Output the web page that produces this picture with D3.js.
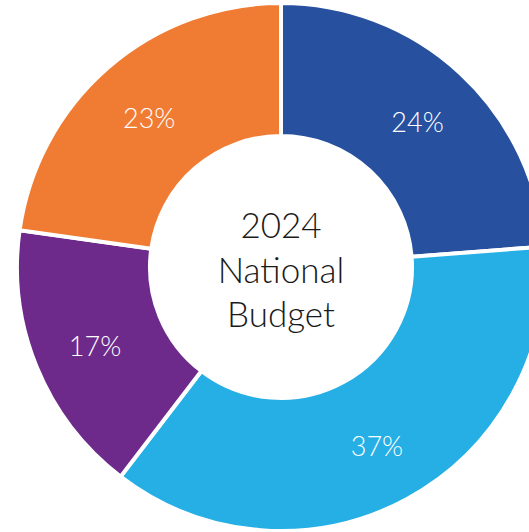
<!DOCTYPE html>
<html>
<head>
<meta charset="utf-8">
<script src="https://cdn.jsdelivr.net/npm/d3@7"></script>
<style>
  html, body { margin: 0; padding: 0; background: #ffffff; }
  svg { display: block; }
</style>
</head>
<body>
<svg id="chart" width="529" height="532"></svg>
<script>
// Budget shares, clockwise from 12 o'clock
const categories = ["Segment A", "Segment B", "Segment C", "Segment D"];
const shares = [24, 37, 17, 23];
const sliceColors = ["#27519f", "#25afe5", "#6d2a8b", "#f07c33"];
const centerLines = ["2024", "National", "Budget"];

const svg = d3.select("#chart");
const cx = 281, cy = 267;
const outerR = 264, innerR = 131;

const g = svg.append("g").attr("transform", `translate(${cx},${cy})`);

const color = d3.scaleOrdinal().domain(categories).range(sliceColors);

const pie = d3.pie().sort(null).value(d => d.value);
const data = pie(categories.map((c, i) => ({ cat: c, value: shares[i] })));

const arc = d3.arc().innerRadius(innerR).outerRadius(outerR);
const labelArc = d3.arc().innerRadius(136).outerRadius(266);

g.selectAll("path.slice")
  .data(data)
  .join("path")
  .attr("class", "slice")
  .attr("d", arc)
  .attr("fill", d => color(d.data.cat))
  .attr("stroke", "#ffffff")
  .attr("stroke-width", 4)
  .attr("stroke-linejoin", "miter");

g.selectAll("text.pct")
  .data(data)
  .join("text")
  .attr("class", "pct")
  .attr("transform", d => {
    const [x, y] = labelArc.centroid(d);
    return `translate(${x},${y + 2})`;
  })
  .attr("text-anchor", "middle")
  .attr("dominant-baseline", "central")
  .attr("fill", "#ffffff")
  .attr("font-family", "Lato, 'Open Sans', sans-serif")
  .attr("font-weight", 300)
  .attr("font-size", 27)
  .text(d => d.data.value + "%");

g.selectAll("text.center")
  .data(centerLines)
  .join("text")
  .attr("class", "center")
  .attr("x", 0)
  .attr("y", (d, i) => -29 + i * 44.5)
  .attr("text-anchor", "middle")
  .attr("fill", "#1a1a1a")
  .attr("font-family", "Lato, 'Open Sans', sans-serif")
  .attr("font-weight", 300)
  .attr("font-size", 35)
  .text(d => d);
</script>
</body>
</html>
